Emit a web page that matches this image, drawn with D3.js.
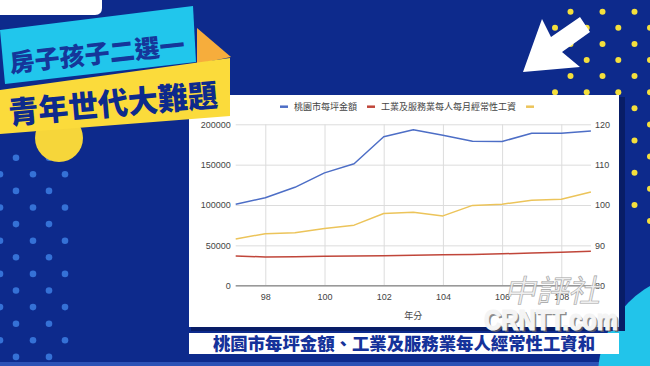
<!DOCTYPE html>
<html lang="zh-Hant">
<head>
    <meta charset="UTF-8">
    <title>桃園市每坪金額、工業及服務業每人經常性工資和</title>
    <script src="https://d3js.org/d3.v7.min.js"></script>
    <style>
        html, body { margin: 0; padding: 0; background: #0d2a8c; }
        svg { display: block; }
        .tick text { font-family: 'Liberation Sans', Arial, sans-serif; font-size: 9px; fill: #444; }
    </style>
</head>
<body>
<svg id="chart" width="650" height="366"></svg>
<script>
    // chart values
    const years = [97, 98, 99, 100, 101, 102, 103, 104, 105, 106, 107, 108, 109];
    const pricePerPing = [100900, 109000, 121900, 139800, 151200, 184500, 193200, 186500, 179000, 178700, 188800, 188900, 191800];
    const monthlyWage = [36800, 35600, 35900, 36500, 36800, 37200, 37600, 38400, 38800, 39500, 40500, 41500, 42600];
    const priceIndex = [91.6, 92.9, 93.1, 94.2, 95.0, 97.9, 98.2, 97.3, 99.9, 100.2, 101.2, 101.4, 103.2];

    const leftTicks = [0, 50000, 100000, 150000, 200000];
    const rightTicks = [80, 90, 100, 110, 120];
    const xTicks = [98, 100, 102, 104, 106, 108];
    const seriesNames = ['桃園市每坪金額', '工業及服務業每人每月經常性工資', ''];
    const seriesColors = ['#4d6ec6', '#c0463a', '#ecc45a'];

    const titleTop = '房子孩子二選一';
    const titleBottom = '青年世代大難題';
    const caption = '桃園市每坪金額、工業及服務業每人經常性工資和';
    const xTitle = '年分';

    const cjk = "'Noto Sans CJK TC', 'Noto Sans CJK SC', sans-serif";
    const latin = "'Liberation Sans', Arial, 'Noto Sans CJK TC', sans-serif";

    const svg = d3.select('#chart');
    const navy = '#0d2a8c';

    // ---- background decoration ----
    svg.append('rect').attr('width', 650).attr('height', 366).attr('fill', navy);
    svg.append('rect').attr('y', 362).attr('width', 650).attr('height', 4).attr('fill', '#2c52b6');

    // light blue dots on the left
    const leftDots = svg.append('g').attr('fill', '#3571d6');
    for (let r = 0; r < 13; r++) {
        const y = 157.7 + r * 16.6;
        const xs = r % 2 === 0 ? [16, 49] : [0, 33, 65];
        xs.forEach(x => leftDots.append('circle').attr('cx', x).attr('cy', y).attr('r', 3.3));
    }

    // yellow dots on the right
    const rightDots = svg.append('g').attr('fill', '#f4df3c');
    for (let r = 0; r < 14; r++) {
        const y = 11.7 + r * 16.1;
        const xs = r % 2 === 0 ? [570.5, 602.5, 634.5] : [555, 586.7, 618.3, 650];
        xs.forEach(x => rightDots.append('circle').attr('cx', x).attr('cy', y).attr('r', 3));
    }

    // cyan corner, bottom right
    svg.append('circle').attr('cx', 702).attr('cy', 376).attr('r', 104).attr('fill', '#22c4ea');

    // white arrow
    svg.append('polygon')
        .attr('points', '523,72 542,19 551,37 580,17 590,32 562,52 580,67')
        .attr('fill', '#ffffff');

    // ---- chart panel ----
    svg.append('rect').attr('x', 191).attr('y', 97).attr('width', 434).attr('height', 234).attr('fill', '#081d66');
    svg.append('rect').attr('x', 189).attr('y', 95).attr('width', 430).attr('height', 232).attr('fill', '#ffffff');

    const plot = { left: 235.7, right: 590.9, top: 124.3, bottom: 285.7 };
    const x = d3.scaleLinear().domain([97, 109]).range([plot.left, plot.right]);
    const yL = d3.scaleLinear().domain([0, 200000]).range([plot.bottom, plot.top]);
    const yR = d3.scaleLinear().domain([80, 120]).range([plot.bottom, plot.top]);

    // vertical grid + x labels
    const gx = svg.append('g')
        .attr('transform', `translate(0,${plot.bottom})`)
        .call(d3.axisBottom(x).tickValues(xTicks).tickSize(-(plot.bottom - plot.top)).tickPadding(8).tickFormat(d3.format('d')));
    gx.select('.domain').remove();
    gx.selectAll('.tick line').attr('stroke', '#dcdcdc');

    // horizontal grid + left labels
    const gl = svg.append('g')
        .attr('transform', `translate(${plot.left},0)`)
        .call(d3.axisLeft(yL).tickValues(leftTicks).tickSize(-(plot.right - plot.left)).tickPadding(5).tickFormat(d3.format('d')));
    gl.select('.domain').remove();
    gl.selectAll('.tick line').attr('stroke', '#dcdcdc');

    // right labels
    const gr = svg.append('g')
        .attr('transform', `translate(${plot.right},0)`)
        .call(d3.axisRight(yR).tickValues(rightTicks).tickSize(0).tickPadding(4));
    gr.select('.domain').remove();

    // baseline
    svg.append('line')
        .attr('x1', plot.left).attr('x2', plot.right)
        .attr('y1', yL(0)).attr('y2', yL(0))
        .attr('stroke', '#999').attr('stroke-width', 1.6);

    const lineL = d3.line().x((d, i) => x(years[i])).y(d => yL(d));
    const lineR = d3.line().x((d, i) => x(years[i])).y(d => yR(d));

    [[pricePerPing, lineL], [monthlyWage, lineL], [priceIndex, lineR]].forEach(([vals, gen], i) => {
        svg.append('path')
            .attr('d', gen(vals))
            .attr('fill', 'none')
            .attr('stroke', seriesColors[i])
            .attr('stroke-width', 1.5)
            .attr('stroke-linejoin', 'round');
    });

    // legend
    const legend = svg.append('g').attr('transform', 'translate(280,106.7)');
    let lx = 0;
    seriesNames.forEach((name, i) => {
        legend.append('line')
            .attr('x1', lx).attr('x2', lx + 8).attr('y1', 0).attr('y2', 0)
            .attr('stroke', seriesColors[i]).attr('stroke-width', 2.5);
        const t = legend.append('text')
            .attr('x', lx + 14).attr('y', 3.2)
            .style('font-family', latin).style('font-size', '9px').attr('fill', '#444')
            .text(name);
        lx += 14 + t.node().getComputedTextLength() + 10;
    });

    // x axis title
    svg.append('text')
        .attr('x', (plot.left + plot.right) / 2).attr('y', 319)
        .attr('text-anchor', 'middle')
        .style('font-family', latin).style('font-size', '9px').attr('fill', '#444')
        .text(xTitle);

    // ---- left banners (drawn over the panel corner) ----
    svg.append('path').attr('d', 'M0,0 H102 V8 Q102,15 95,15 H0 Z').attr('fill', '#ffffff');
    svg.append('circle').attr('cx', 59).attr('cy', 138).attr('r', 24).attr('fill', '#f6d63a');
    svg.append('polygon').attr('points', '197,28 231,57 197,64').attr('fill', '#f6ad3c');
    svg.append('polygon').attr('points', '0,30 193,6 196,62 5,84').attr('fill', '#21c6ec');
    svg.append('polygon').attr('points', '0,90 230,58 230,116 0,134').attr('fill', '#fbdb3b');

    svg.append('text')
        .attr('transform', 'translate(98,63) rotate(-6)')
        .attr('text-anchor', 'middle')
        .attr('textLength', 176).attr('lengthAdjust', 'spacingAndGlyphs')
        .style('font-family', cjk).style('font-weight', 900).style('font-size', '25px')
        .attr('fill', '#15369a')
        .text(titleTop);
    svg.append('text')
        .attr('transform', 'translate(114,115) rotate(-5)')
        .attr('text-anchor', 'middle')
        .attr('textLength', 210).attr('lengthAdjust', 'spacingAndGlyphs')
        .style('font-family', cjk).style('font-weight', 900).style('font-size', '31px')
        .attr('fill', '#0d2a8c')
        .text(titleBottom);

    // ---- caption bar ----
    svg.append('rect').attr('x', 189).attr('y', 333).attr('width', 430).attr('height', 21).attr('fill', '#ffffff');
    svg.append('text')
        .attr('x', 404).attr('y', 349.5)
        .attr('text-anchor', 'middle')
        .attr('textLength', 382).attr('lengthAdjust', 'spacingAndGlyphs')
        .style('font-family', cjk).style('font-weight', 900).style('font-size', '17px')
        .attr('fill', '#15329a')
        .text(caption);

    // ---- watermark ----
    const wm = svg.append('g');
    wm.append('text')
        .attr('transform', 'translate(552,302) skewX(-12)')
        .attr('text-anchor', 'middle')
        .attr('textLength', 96).attr('lengthAdjust', 'spacingAndGlyphs')
        .style('font-family', cjk).style('font-size', '31px').style('font-weight', 400)
        .attr('fill', '#eeeeee').attr('stroke', '#999').attr('stroke-width', 0.6).attr('opacity', 0.9)
        .text('中評社');
    wm.append('text')
        .attr('x', 486).attr('y', 332)
        .attr('textLength', 134).attr('lengthAdjust', 'spacingAndGlyphs')
        .style('font-family', "'Liberation Sans', Arial, sans-serif").style('font-weight', 'bold').style('font-size', '30px')
        .attr('fill', '#666').attr('opacity', 0.75)
        .text('CRNTT.com');
    wm.append('text')
        .attr('x', 484).attr('y', 330)
        .attr('textLength', 134).attr('lengthAdjust', 'spacingAndGlyphs')
        .style('font-family', "'Liberation Sans', Arial, sans-serif").style('font-weight', 'bold').style('font-size', '30px')
        .attr('fill', '#f4f4f4').attr('stroke', '#f4f4f4').attr('stroke-width', 1.2)
        .text('CRNTT.com');
</script>
</body>
</html>
